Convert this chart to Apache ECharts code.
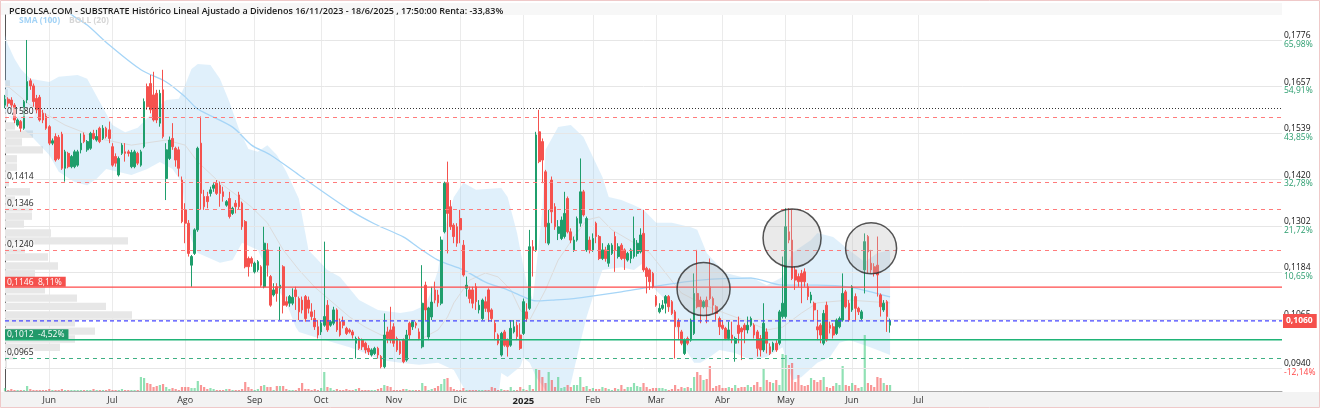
<!DOCTYPE html>
<html><head><meta charset="utf-8">
<script src="https://cdn.jsdelivr.net/npm/echarts@6/dist/echarts.min.js"></script>
<style>html,body{margin:0;padding:0;background:#fff}#c{width:1326px;height:411px}</style>
</head><body><div id="c"></div>
<script>
// ---------------- DATA ----------------
const TITLE = 'PCBOLSA.COM - SUBSTRATE Histórico Lineal Ajustado a Dividenos 16/11/2023 - 18/6/2025 , 17:50:00 Renta: -33,83%';
const START_DATE = '2024-05-14';
const HOLIDAYS = ['2024-12-25','2024-12-26','2025-01-01','2025-04-18','2025-04-21','2025-05-01','2025-12-25','2025-12-26'];
const SLOT_COUNT = 405;
const LAST_MONTH_LABEL = '2025-07-31';
const MONTH_NAMES = ['Ene','Feb','Mar','Abr','May','Jun','Jul','Ago','Sep','Oct','Nov','Dic'];

const OPEN = [
.1610,.1625,.1623,.1610,.1559,.1568,.1551,.1623,.1672,.1659,
.1627,.1630,.1589,.1582,.1555,.1513,.1530,.1528,.1536,.1449,
.1487,.1453,.1453,.1457,.1496,.1534,.1496,.1500,.1538,.1521,
.1551,.1525,.1551,.1547,.1504,.1479,.1432,.1487,.1491,.1491,
.1453,.1453,.1487,.1457,.1504,.1657,.1665,.1636,.1640,.1564,
.1649,.1423,.1474,.1525,.1500,.1496,.1419,.1343,.1309,.1202,
.1232,.1292,.1513,.1377,.1377,.1385,.1398,.1411,.1406,.1389,
.1355,.1372,.1334,.1360,.1381,.1360,.1313,.1219,.1219,.1185,
.1190,.1198,.1147,.1241,.1173,.1126,.1147,.1143,.1198,.1109,
.1105,.1105,.1139,.1117,.1113,.1122,.1113,.1083,.1066,.1045,
.1032,.1049,.1100,.1049,.1054,.1088,.1058,.1058,.1041,.1037,
.1032,.1003,.1015,.1011,.1003,.0990,.0973,.0977,.0990,.0969,
.0943,.1032,.1037,.1045,.1015,.1007,.1011,.0960,.1054,.1045,
.1054,.1032,.0994,.1151,.1019,.1070,.1139,.1126,.1105,.1287,
.1411,.1351,.1304,.1300,.1321,.1253,.1143,.1139,.1139,.1147,
.1088,.1066,.1109,.1139,.1088,.1054,.1024,.0973,.1032,.1011,
.0998,.1032,.1049,.1024,.1028,.1083,.1092,.1249,.1241,.1542,
.1517,.1440,.1258,.1419,.1351,.1283,.1270,.1275,.1372,.1287,
.1241,.1266,.1309,.1389,.1241,.1266,.1241,.1309,.1275,.1219,
.1241,.1207,.1232,.1275,.1224,.1253,.1241,.1215,.1219,.1224,
.1232,.1236,.1283,.1194,.1190,.1181,.1122,.1083,.1092,.1105,
.1122,.1109,.1083,.1058,.1032,.0977,.1015,.1011,.1028,.1130,
.1113,.1096,.1113,.1147,.1117,.1096,.1066,.1049,.1041,.1015,
.1024,.1003,.1049,.1041,.1049,.1037,.1049,.1049,.1032,.1015,
.0986,.1032,.0994,.0986,.1003,.1003,.1071,.1071,.1287,.1266,
.1190,.1173,.1181,.1185,.1147,.1113,.1105,.1045,.1049,.1003,
.1100,.1049,.1045,.1028,.1045,.1062,.1134,.1105,.1088,.1122,
.1092,.1066,.1190,.1275,.1207,.1198,.1202,.1126,.1088,.1109,
.1049];
const CLOSE = [
.1625,.1615,.1610,.1572,.1572,.1551,.1619,.1670,.1659,.1619,
.1598,.1572,.1572,.1551,.1513,.1519,.1470,.1474,.1449,.1491,
.1453,.1479,.1491,.1491,.1513,.1517,.1517,.1538,.1525,.1530,
.1517,.1551,.1530,.1525,.1457,.1462,.1474,.1508,.1487,.1487,
.1489,.1491,.1462,.1491,.1619,.1606,.1598,.1572,.1572,.1640,
.1530,.1496,.1521,.1504,.1470,.1449,.1313,.1309,.1232,.1224,
.1292,.1500,.1385,.1351,.1364,.1394,.1406,.1385,.1385,.1377,
.1364,.1326,.1347,.1351,.1351,.1300,.1198,.1198,.1207,.1207,
.1211,.1151,.1258,.1202,.1100,.1139,.1130,.1151,.1100,.1100,
.1122,.1120,.1122,.1083,.1088,.1066,.1092,.1071,.1045,.1024,
.1054,.1071,.1037,.1058,.1088,.1037,.1024,.1049,.1028,.1032,
.1024,.1015,.0990,.0994,.0986,.0981,.0986,.0990,.0973,.0943,
.1024,.1015,.1011,.1003,.0986,.0977,.0956,.1024,.1024,.1058,
.1049,.1015,.1105,.1088,.1093,.1108,.1113,.1106,.1266,.1411,
.1334,.1300,.1275,.1258,.1292,.1177,.1151,.1117,.1105,.1109,
.1100,.1113,.1092,.1083,.1066,.1032,.1003,.1028,.0998,.0994,
.1041,.1045,.1020,.0990,.1109,.1066,.1249,.1241,.1534,.1466,
.1470,.1300,.1309,.1338,.1300,.1300,.1317,.1334,.1287,.1266,
.1266,.1321,.1389,.1330,.1321,.1241,.1270,.1275,.1219,.1241,
.1219,.1253,.1253,.1241,.1249,.1219,.1219,.1232,.1241,.1270,
.1258,.1279,.1190,.1173,.1160,.1147,.1100,.1092,.1100,.1122,
.1096,.1079,.1045,.1045,.1003,.1011,.1003,.1062,.1130,.1096,
.1096,.1109,.1096,.1117,.1100,.1079,.1045,.1041,.1015,.1037,
.1015,.1015,.1028,.1032,.1037,.1049,.1066,.1024,.0990,.0986,
.1054,.1003,.0977,.1003,.0986,.1083,.1105,.1300,.1266,.1168,
.1164,.1160,.1160,.1160,.1122,.1126,.1088,.1037,.1024,.1079,
.1011,.1041,.1024,.1062,.1066,.1130,.1096,.1062,.1147,.1092,
.1083,.1083,.1262,.1236,.1190,.1181,.1177,.1096,.1105,.1071,
.1060];
const LOW = [
.1602,.1606,.1598,.1564,.1555,.1542,.1547,.1615,.1649,.1606,
.1589,.1568,.1564,.1547,.1508,.1508,.1466,.1470,.1445,.1415,
.1449,.1449,.1449,.1453,.1487,.1513,.1491,.1496,.1521,.1517,
.1513,.1521,.1525,.1513,.1453,.1453,.1428,.1483,.1466,.1479,
.1449,.1449,.1457,.1453,.1500,.1598,.1589,.1568,.1564,.1555,
.1525,.1368,.1470,.1496,.1453,.1428,.1309,.1258,.1224,.1147,
.1228,.1287,.1343,.1343,.1347,.1377,.1389,.1381,.1351,.1364,
.1351,.1321,.1330,.1334,.1343,.1292,.1194,.1173,.1198,.1181,
.1185,.1147,.1143,.1173,.1096,.1122,.1109,.1062,.1079,.1096,
.1096,.1100,.1088,.1062,.1079,.1058,.1079,.1062,.1037,.1015,
.1024,.1045,.1032,.1045,.1049,.1032,.1020,.1041,.1024,.1028,
.1015,.0964,.0986,.0986,.0977,.0973,.0969,.0973,.0964,.0939,
.0939,.1003,.1003,.0994,.0981,.0973,.0952,.0956,.1011,.1037,
.1041,.1011,.0990,.1062,.1011,.1062,.1105,.1096,.1100,.1283,
.1232,.1292,.1258,.1249,.1258,.1173,.1122,.1105,.1092,.1088,
.1079,.1062,.1083,.1058,.1058,.1011,.0998,.0969,.0994,.0969,
.0994,.1028,.1011,.0986,.1024,.1058,.1088,.1173,.1236,.1462,
.1411,.1258,.1253,.1309,.1292,.1266,.1266,.1270,.1283,.1258,
.1236,.1262,.1300,.1326,.1236,.1232,.1236,.1258,.1215,.1215,
.1211,.1198,.1228,.1185,.1219,.1215,.1190,.1211,.1207,.1219,
.1224,.1232,.1185,.1130,.1139,.1143,.1096,.1079,.1088,.1079,
.1083,.1075,.0964,.1011,.0998,.0973,.0998,.1007,.1024,.1092,
.1054,.1092,.1054,.1113,.1079,.1062,.1024,.1037,.1011,.1011,
.1003,.0956,.1003,.0960,.1003,.1028,.1045,.1015,.0969,.0969,
.0981,.0977,.0973,.0981,.0981,.0998,.1066,.1066,.1258,.1164,
.1139,.1147,.1105,.1147,.1113,.1105,.1062,.1011,.1003,.0998,
.1007,.1028,.1015,.1024,.1041,.1058,.1092,.1058,.1083,.1062,
.1075,.1062,.1130,.1181,.1181,.1173,.1122,.1071,.1083,.1032,
.1030];
const HIGH = [
.1636,.1630,.1630,.1615,.1576,.1572,.1623,.1776,.1678,.1665,
.1636,.1636,.1598,.1589,.1559,.1525,.1538,.1534,.1542,.1496,
.1491,.1483,.1496,.1496,.1538,.1540,.1521,.1542,.1547,.1547,
.1555,.1559,.1555,.1568,.1513,.1487,.1479,.1513,.1513,.1496,
.1496,.1496,.1491,.1496,.1627,.1665,.1687,.1695,.1649,.1649,
.1700,.1513,.1530,.1564,.1504,.1504,.1428,.1360,.1317,.1228,
.1296,.1504,.1581,.1394,.1389,.1402,.1411,.1419,.1415,.1402,
.1368,.1389,.1351,.1368,.1389,.1364,.1317,.1224,.1224,.1211,
.1215,.1202,.1300,.1258,.1177,.1156,.1156,.1249,.1202,.1122,
.1126,.1143,.1147,.1122,.1122,.1126,.1122,.1105,.1088,.1062,
.1062,.1262,.1113,.1062,.1096,.1092,.1066,.1071,.1045,.1041,
.1037,.1020,.1020,.1015,.1007,.0998,.0990,.0994,.0994,.0973,
.1079,.1045,.1096,.1054,.1020,.1011,.1015,.1037,.1058,.1062,
.1058,.1041,.1202,.1160,.1096,.1147,.1160,.1139,.1275,.1415,
.1466,.1368,.1309,.1309,.1343,.1266,.1173,.1147,.1147,.1156,
.1113,.1117,.1122,.1143,.1092,.1062,.1028,.1032,.1037,.1015,
.1062,.1062,.1058,.1054,.1117,.1105,.1292,.1266,.1542,.1598,
.1525,.1445,.1343,.1428,.1360,.1317,.1326,.1389,.1377,.1296,
.1275,.1326,.1474,.1394,.1326,.1275,.1283,.1313,.1279,.1258,
.1249,.1258,.1258,.1287,.1258,.1258,.1245,.1236,.1245,.1326,
.1266,.1296,.1343,.1198,.1194,.1185,.1126,.1105,.1113,.1126,
.1126,.1113,.1088,.1066,.1037,.1015,.1020,.1066,.1181,.1241,
.1122,.1113,.1122,.1219,.1122,.1100,.1071,.1062,.1045,.1058,
.1058,.1020,.1071,.1045,.1054,.1071,.1071,.1054,.1037,.1024,
.1105,.1041,.1003,.1007,.1011,.1088,.1224,.1347,.1347,.1343,
.1198,.1181,.1190,.1194,.1156,.1134,.1109,.1088,.1054,.1088,
.1109,.1058,.1054,.1066,.1071,.1181,.1139,.1113,.1151,.1130,
.1096,.1088,.1283,.1279,.1241,.1207,.1275,.1130,.1113,.1113,
.1066];
// volume, thousands of shares (relative)
const VOLUME = [
3,1,2,1,1,1,1,5,2,1, 1,1,1,1,2,1,1,1,2,1, 1,1,1,1,1,1,1,1,2,1, 1,1,1,2,1,1,1,2,1,1,
1,1,1,14,13,8,7,4,5,6, 7,4,2,3,2,1,4,4,4,3, 3,10,6,4,2,3,2,1,1,1, 2,2,1,1,1,2,9,4,2,1,
2,5,6,4,4,1,5,5,5,2, 1,1,1,3,8,2,2,1,2,1, 3,19,4,3,1,2,1,1,2,1, 1,2,3,1,1,1,1,1,2,3,
6,5,4,1,1,1,2,2,1,1, 1,1,8,5,1,2,3,5,7,12, 13,4,2,1,1,3,1,1,1,1, 1,1,1,1,4,3,1,2,1,1,
4,1,1,4,2,1,6,2,23,21, 14,8,19,11,4,14,3,4,6,4, 6,6,14,4,5,2,3,2,2,4, 3,2,1,3,2,6,2,4,4,8,
5,4,8,4,2,3,3,3,3,2, 1,2,6,2,4,3,4,3,14,19, 16,11,12,25,3,5,6,3,3,4, 3,6,3,4,4,6,4,6,9,4,
23,11,9,8,11,6,37,36,26,28, 9,16,6,5,6,13,11,9,11,14, 4,3,5,8,6,25,6,5,8,6, 3,4,56,8,6,4,14,13,8,6,
6];

// SMA(100) read at sparse points: [slot index], [value]
const SMA_IDX = [20,22,26,33,43,51,57,61,72,78,84,93,109,117,126,131,137,145,152,159,165,168,173,179,184,195,204,220,236,246,257,267,280];
const SMA_VAL = [.1847,.1835,.1814,.1763,.1700,.1669,.1631,.1600,.1554,.1508,.1483,.1432,.1343,.1307,.1274,.1246,.1215,.1190,.1159,.1139,.1118,.1111,.1113,.1116,.1121,.1134,.1146,.1164,.1169,.1151,.1151,.1146,.1121];

// BOLL(20) bands read at sparse points
const BOLL_UP_IDX = [0,1,3,5,8,14,17,23,26,30,34,38,42,45,49,51,55,57,59,61,65,68,71,74,77,80,83,86,89,93,96,102,106,112,118,125,129,133,135,137,139,142,145,149,157,159,162,165,167,169,170,171,175,179,183,186,189,191,195,199,202,206,211,217,219,222,224,228,233,236,241,246,249,255,257,262,267,272,276,280];
const BOLL_UP_VAL = [.1789,.1763,.1728,.1702,.1677,.1669,.1682,.1687,.1677,.1618,.1559,.1541,.1552,.1577,.1610,.1623,.1626,.1661,.1702,.1715,.1712,.1677,.1618,.1549,.1498,.1491,.1508,.1483,.1440,.1371,.1241,.1190,.1172,.1113,.1088,.1080,.1085,.1100,.1139,.1190,.1292,.1376,.1412,.1394,.1399,.1376,.1284,.1157,.1113,.1266,.1343,.1496,.1554,.1559,.1529,.1478,.1427,.1376,.1368,.1355,.1343,.1310,.1310,.1299,.1292,.1233,.1215,.1182,.1172,.1172,.1151,.1172,.1233,.1266,.1284,.1274,.1241,.1210,.1233,.1241];
const BOLL_LOW_IDX = [0,3,8,14,17,22,26,29,32,40,45,49,53,56,57,59,61,68,72,75,80,84,89,92,93,98,109,114,119,125,131,137,142,145,148,156,157,159,163,164,166,168,171,173,178,180,182,184,186,189,195,199,202,205,209,214,218,220,223,226,231,236,241,246,249,252,257,261,264,267,272,276,280];
const BOLL_LOW_VAL = [.1593,.1567,.1534,.1483,.1440,.1414,.1406,.1422,.1447,.1432,.1447,.1465,.1447,.1412,.1338,.1266,.1233,.1208,.1215,.1259,.1241,.1172,.1106,.1044,.1032,.1019,.0993,.0978,.0960,.0953,.0948,.0953,.0935,.0891,.0860,.0860,.0927,.0917,.0943,.0966,.0953,.0917,.0884,.0865,.0865,.0935,.1004,.1070,.1121,.1190,.1197,.1190,.1208,.1146,.1113,.1004,.0953,.0953,.0968,.0986,.0978,.0960,.0968,.0993,.0909,.0917,.0953,.0968,.1004,.1011,.0998,.0986,.0973];
const BOLL_MID_IDX = [0,8,19,30,40,51,57,61,68,74,78,83,88,93,98,109,114,119,125,131,137,140,142,147,152,156,160,163,166,171,175,180,184,188,192,199,204,209,214,220,225,236,241,246,252,257,267,280];
const BOLL_MID_VAL = [.1664,.1610,.1559,.1524,.1508,.1521,.1508,.1465,.1412,.1376,.1350,.1310,.1241,.1190,.1146,.1070,.1044,.1024,.1011,.1011,.1037,.1070,.1106,.1164,.1182,.1172,.1139,.1088,.1062,.1139,.1215,.1274,.1317,.1325,.1292,.1259,.1233,.1182,.1131,.1106,.1088,.1055,.1037,.1044,.1080,.1106,.1113,.1106];

// Volume-at-price profile (left histogram)
const PROFILE_BIN = 0.0021;
const PROFILE_PRICE = [.1664,.1641,.1621,.1600,.1580,.1557,.1536,.1516,.1496,.1473,.1452,.1432,.1412,.1389,.1368,.1348,.1327,.1307,.1284,.1264,.1243,.1223,.1200,.1180,.1159,.1139,.1118,.1097,.1075,.1055,.1034,.1014,.0993,.0971,.0950];
const PROFILE_VOL = [5,3,3,2,2,10,28,17,38,12,12,5,4,25,10,27,27,19,46,123,20,43,53,30,40,40,72,101,127,70,90,70,55,10,2];

// Horizontal levels
const LEVEL_VALUES = [0.1602, 0.1580, 0.1414, 0.1346, 0.1240, 0.1146, 0.1060, 0.1012, 0.0965];
const LEVEL_PCT = ['', '', '', '', '', '8,11%', '', '-4,52%', ''];

// Right axis ticks
const TICK_VALUES = [0.0940, 0.1065, 0.1184, 0.1302, 0.1420, 0.1539, 0.1657, 0.1776];
const TICK_PCT = ['-12,14%', '-0,47%', '10,65%', '21,72%', '32,78%', '43,85%', '54,91%', '65,98%'];

// Annotation circles: [slot index, price]
const CIRCLE_CENTERS = [[221, 0.1141], [249, 0.1271], [274, 0.1245]];

// ---------------- BUILD ----------------
function tradingDays(start, n, holidays) {
  const out = [], hs = new Set(holidays);
  const d = new Date(start + 'T00:00:00Z');
  while (out.length < n) {
    const dow = d.getUTCDay(), s = d.toISOString().slice(0, 10);
    if (dow !== 0 && dow !== 6 && !hs.has(s)) out.push(s);
    d.setUTCDate(d.getUTCDate() + 1);
  }
  return out;
}
const DATES = tradingDays(START_DATE, SLOT_COUNT, HOLIDAYS);
const isMonthStart = i => i > 0 && DATES[i].slice(0, 7) !== DATES[i - 1].slice(0, 7) && DATES[i] <= LAST_MONTH_LABEL;
const fmt = v => v.toFixed(4).replace('.', ',');

const FONT = "'Open Sans', 'DejaVu Sans', sans-serif";
const UP = '#1f9e6c', DOWN = '#f5524e';
const CIRCLE_DIAMETERS = [53, 58, 51];
const Y_MIN = 0.08813, Y_MAX = 0.18397;

const candleData = OPEN.map((o, i) => [o, CLOSE[i], LOW[i], HIGH[i]]);
const volData = VOLUME.map((v, i) => ({
  value: v,
  itemStyle: { color: CLOSE[i] >= OPEN[i] ? 'rgba(70,205,130,0.6)' : 'rgba(245,85,85,0.62)' }
}));
const pairs = (idx, val) => idx.map((x, k) => [x, val[k]]);

const LEVEL_KIND = ['dot', 'plain', 'plain', 'plain', 'plain', 'red', 'last', 'green', 'plainGreen'];
const KIND_LINE = {
  dot: { color: '#333333', dash: [1, 2], width: 1 },
  plain: { color: '#ff7b7b', dash: [4, 4], width: 1 },
  plainGreen: { color: '#3fb083', dash: [4, 4], width: 1 },
  red: { color: '#ff4a4a', dash: null, width: 1.4 },
  last: { color: '#4646ff', dash: [4, 3], width: 1.3 },
  green: { color: '#1fb477', dash: null, width: 1.4 }
};

function renderLevel(params, api) {
  const k = params.dataIndex, v = api.value(1), kind = LEVEL_KIND[k], ls = KIND_LINE[kind];
  const a = api.coord([0, v]), b = api.coord([SLOT_COUNT - 1, v]);
  const y = ls.width > 1 ? a[1] : Math.round(a[1]) + 0.5;
  const children = [{
    type: 'line', shape: { x1: a[0], y1: y, x2: b[0], y2: y },
    style: { stroke: ls.color, lineWidth: ls.width, lineDash: ls.dash || null }
  }];
  const base = { fontSize: 8.5, fontFamily: FONT };
  if (kind === 'plain' || kind === 'plainGreen') {
    children.push({ type: 'text', x: a[0] + 1, y: y - 1, style: Object.assign({ text: fmt(v), fill: '#222',
      align: 'left', verticalAlign: 'bottom', backgroundColor: 'rgba(255,255,255,0.6)', padding: [0, 1] }, base) });
  } else if (kind === 'red' || kind === 'green') {
    children.push({ type: 'text', x: a[0], y: y - 0.5, style: Object.assign({ text: fmt(v) + '  ' + LEVEL_PCT[k], fill: '#fff',
      align: 'left', verticalAlign: 'bottom', backgroundColor: kind === 'red' ? '#f5504c' : '#23996a', padding: [1, 4, 0, 2] }, base) });
  } else if (kind === 'last') {
    children.push({ type: 'text', x: b[0] + 1, y: y, z2: 10, style: Object.assign({ text: fmt(v), fill: '#fff', fontWeight: 'bold',
      align: 'left', verticalAlign: 'middle', backgroundColor: '#f5504c', padding: [3, 4, 2, 3] }, base) });
  }
  return { type: 'group', children };
}

const chart = echarts.init(document.getElementById('c'), null, { renderer: 'canvas' });
chart.setOption({
  animation: false,
  backgroundColor: '#fff',
  title: { text: TITLE, left: 4, top: 2, textStyle: { fontSize: 9, fontWeight: 600, color: '#1a1a1a', fontFamily: FONT } },
  legend: {
    left: 14, top: 16, icon: 'none', itemWidth: 0, itemHeight: 0, itemGap: 4, selectedMode: false, padding: 0,
    textStyle: { fontSize: 8.5, fontWeight: 'bold', fontFamily: FONT },
    data: [{ name: 'SMA (100)', textStyle: { color: '#a3d3f6' } }, { name: 'BOLL (20)', textStyle: { color: '#d6d6d6' } }]
  },
  graphic: [
    { type: 'rect', z: -10, shape: { x: 1, y: 3, width: 1281, height: 12 }, style: { fill: '#f7f7f7' } },
    { type: 'rect', z: -10, shape: { x: 1, y: 392, width: 1318, height: 15 }, style: { fill: '#f3f3f3' } },
    { type: 'rect', z: -9, shape: { x: 0.5, y: 0.5, width: 1319, height: 407 }, style: { fill: 'none', stroke: '#efc9c9', lineWidth: 1 } }
  ],
  grid: { left: 5, right: 44, top: 15, bottom: 20 },
  xAxis: [{
    type: 'category', data: DATES, boundaryGap: false,
    axisLine: { show: true, lineStyle: { color: '#aaa' } },
    axisTick: { show: false },
    axisLabel: {
      interval: (i) => isMonthStart(i), margin: 5, fontSize: 9, color: '#333', fontFamily: FONT,
      formatter: (val) => { const m = +val.slice(5, 7); return m === 1 ? '{b|' + val.slice(0, 4) + '}' : MONTH_NAMES[m - 1]; },
      rich: { b: { fontWeight: 'bold', fontSize: 9.5, color: '#222', fontFamily: FONT } }
    },
    splitLine: { show: true, interval: (i) => isMonthStart(i), lineStyle: { color: '#ebebeb', width: 1 } }
  }, {
    type: 'value', min: 0, max: 1277, show: false
  }],
  yAxis: [{
    type: 'value', position: 'right', min: Y_MIN, max: Y_MAX,
    axisLine: { show: true, lineStyle: { color: '#555' } }, axisTick: { show: false },
    axisLabel: { show: false }, splitLine: { show: false }
  }, {
    type: 'value', min: 0, max: 376, show: false
  }],
  series: [
    { // volume profile
      type: 'custom', name: 'profile', xAxisIndex: 1, yAxisIndex: 0, z: 1, silent: true, clip: true,
      data: PROFILE_PRICE.map((p, k) => [PROFILE_VOL[k], p]),
      renderItem: (params, api) => {
        const a = api.coord([0, api.value(1) + PROFILE_BIN * 0.45]);
        const b = api.coord([api.value(0), api.value(1) - PROFILE_BIN * 0.45]);
        return { type: 'rect', shape: { x: a[0], y: a[1], width: b[0] - a[0], height: b[1] - a[1] }, style: { fill: '#e7e7e7' } };
      }
    },
    { // bollinger band area
      type: 'custom', name: 'BOLL (20)', z: 1, silent: true, clip: true,
      data: [[0, BOLL_MID_VAL[0]]],
      renderItem: (params, api) => {
        const up = BOLL_UP_IDX.map((x, k) => api.coord([x, BOLL_UP_VAL[k]]));
        const lo = BOLL_LOW_IDX.map((x, k) => api.coord([x, BOLL_LOW_VAL[k]])).reverse();
        return { type: 'polygon', shape: { points: up.concat(lo) }, style: { fill: 'rgba(130,195,240,0.25)' } };
      }
    },
    { // bollinger middle + grid lines with right labels
      type: 'line', name: 'BOLL (20)', z: 2, data: pairs(BOLL_MID_IDX, BOLL_MID_VAL), symbol: 'none', silent: true,
      lineStyle: { color: '#dcdcdc', width: 1 },
      markLine: {
        silent: true, symbol: ['none', 'none'], animation: false, precision: 6,
        lineStyle: { color: '#e6e6e6', type: 'solid', width: 1 },
        label: { show: true, position: 'end', distance: 2, fontFamily: FONT,
          rich: { p: { color: '#111', fontSize: 8.5, lineHeight: 8.5, fontFamily: FONT },
                  g: { color: '#2a9d6e', fontSize: 8.5, lineHeight: 8.5, fontFamily: FONT },
                  r: { color: '#f44', fontSize: 8.5, lineHeight: 8.5, fontFamily: FONT } } },
        data: TICK_VALUES.map((v, k) => ({ yAxis: v,
          label: { formatter: '{p|' + fmt(v) + '}\n{' + (TICK_PCT[k][0] === '-' ? 'r' : 'g') + '|' + TICK_PCT[k] + '}' } }))
      }
    },
    {
      type: 'line', name: 'SMA (100)', z: 3, data: pairs(SMA_IDX, SMA_VAL), symbol: 'none', silent: true, smooth: 0.3,
      lineStyle: { color: '#a6d5f7', width: 1.3 }
    },
    {
      type: 'bar', name: 'vol', yAxisIndex: 1, z: 3, barWidth: 2.2, data: volData, silent: true
    },
    {
      type: 'candlestick', name: 'SUBSTRATE', z: 5, data: candleData, barWidth: 2.2, silent: true,
      itemStyle: { color: UP, color0: DOWN, borderColor: UP, borderColor0: DOWN, borderWidth: 1 }
    },
    { // horizontal levels with their labels
      type: 'custom', name: 'levels', z: 6, silent: true, clip: false,
      data: LEVEL_VALUES.map(v => [0, v]),
      renderItem: renderLevel
    },
    {
      type: 'scatter', name: 'circles', z: 10, silent: true, data: CIRCLE_CENTERS,
      symbol: 'circle', symbolSize: (val, params) => CIRCLE_DIAMETERS[params.dataIndex],
      itemStyle: { color: 'rgba(185,185,185,0.38)', borderColor: '#2a2a2a', borderWidth: 1.5 }
    }
  ]
});
</script></body></html>
